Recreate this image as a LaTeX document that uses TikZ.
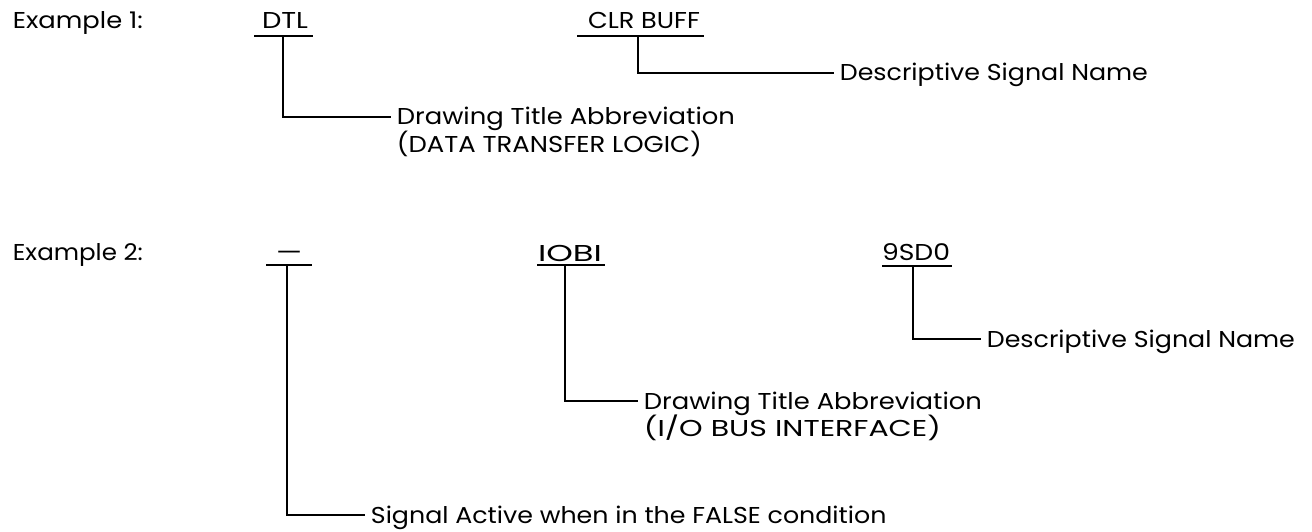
\documentclass[tikz,border=0pt]{standalone}
\usepackage{fontspec}
\setmainfont{Poppins}
\usepackage{graphicx}
\newsavebox\refbox
\newdimen\tmpdim
\newcommand\fnt{\fontsize{\fs}{\fs}\selectfont}
\newcommand\T[1]{\scalebox{\hs}[1]{#1}}
\newcommand\W[2]{\resizebox{#1pt}{\height}{#2}}
\begin{document}
\sbox\refbox{\fontsize{10}{12}\selectfont H}%
\tmpdim=\ht\refbox
\pgfmathsetmacro\fs{10*16/\the\tmpdim}%
\sbox\refbox{\fnt Descriptive Signal Name}%
\tmpdim=\wd\refbox
\pgfmathsetmacro\hs{308/\the\tmpdim}%
\begin{tikzpicture}[x=1pt,y=-1pt,line width=1.8pt]
\tikzset{
  desc/.style={inner xsep=5pt, inner ysep=0pt, anchor=west, text height=16pt, text depth=0pt, font=\fnt},
  desc2/.style={inner xsep=5pt, inner ysep=0pt, anchor=base west, font=\fnt},
  lab/.style={inner sep=0pt, anchor=base, font=\fnt},
  head/.style={inner sep=0pt, anchor=base west, font=\fnt},
  bar/.style={line width=1.8pt},
  conn/.style={line width=1.8pt}
}
\useasboundingbox (0,0) rectangle (1312,532);

% ---------- Example 1 ----------
\node[head] (ex1) at (12,29) {\W{130}{Example 1:}};

\node[lab] (dtl) at (285,29) {\W{46}{DTL}};
\draw[bar] (254,36) -- (313,36);
\coordinate (dtlj) at (283,36);
\node[desc] (d1) at (391,117) {\W{338}{Drawing Title Abbreviation}};
\node[desc2] (d1b) at ([yshift=-27pt]d1.base west) {\W{305}{(DATA TRANSFER LOGIC)}};
\draw[conn] (dtlj) |- (d1.west);

\node[lab] (clr) at (644,29) {\W{112}{CLR BUFF}};
\draw[bar] (577,36) -- (704,36);
\coordinate (clrj) at (638,36);
\node[desc] (d2) at (834,73) {\W{308}{Descriptive Signal Name}};
\draw[conn] (clrj) |- (d2.west);

% ---------- Example 2 ----------
\node[head] (ex2) at (12,260) {\W{130}{Example 2:}};

\node[lab] (neg) at (289,260) {\W{26}{—}};
\draw[bar] (266,265) -- (312,265);
\coordinate (negj) at (287,265);
\node[desc] (d5) at (365,515) {\T{Signal Active when in the FALSE condition}};
\draw[conn] (negj) |- (d5.west);

\node[lab] (iobi) at (570,261) {\W{64}{IOBI}};
\draw[bar] (537,265) -- (605,265);
\coordinate (iobij) at (565,265);
\node[desc] (d3) at (638,401) {\W{338}{Drawing Title Abbreviation}};
\node[desc2] (d3b) at ([yshift=-27pt]d3.base west) {\W{297}{(I/O BUS INTERFACE)}};
\draw[conn] (iobij) |- (d3.west);

\node[lab] (sd) at (916,260) {\W{68}{9SD0}};
\draw[bar] (882,266) -- (952,266);
\coordinate (sdj) at (913,266);
\node[desc] (d4) at (981,339) {\W{308}{Descriptive Signal Name}};
\draw[conn] (sdj) |- (d4.west);
\end{tikzpicture}
\end{document}
